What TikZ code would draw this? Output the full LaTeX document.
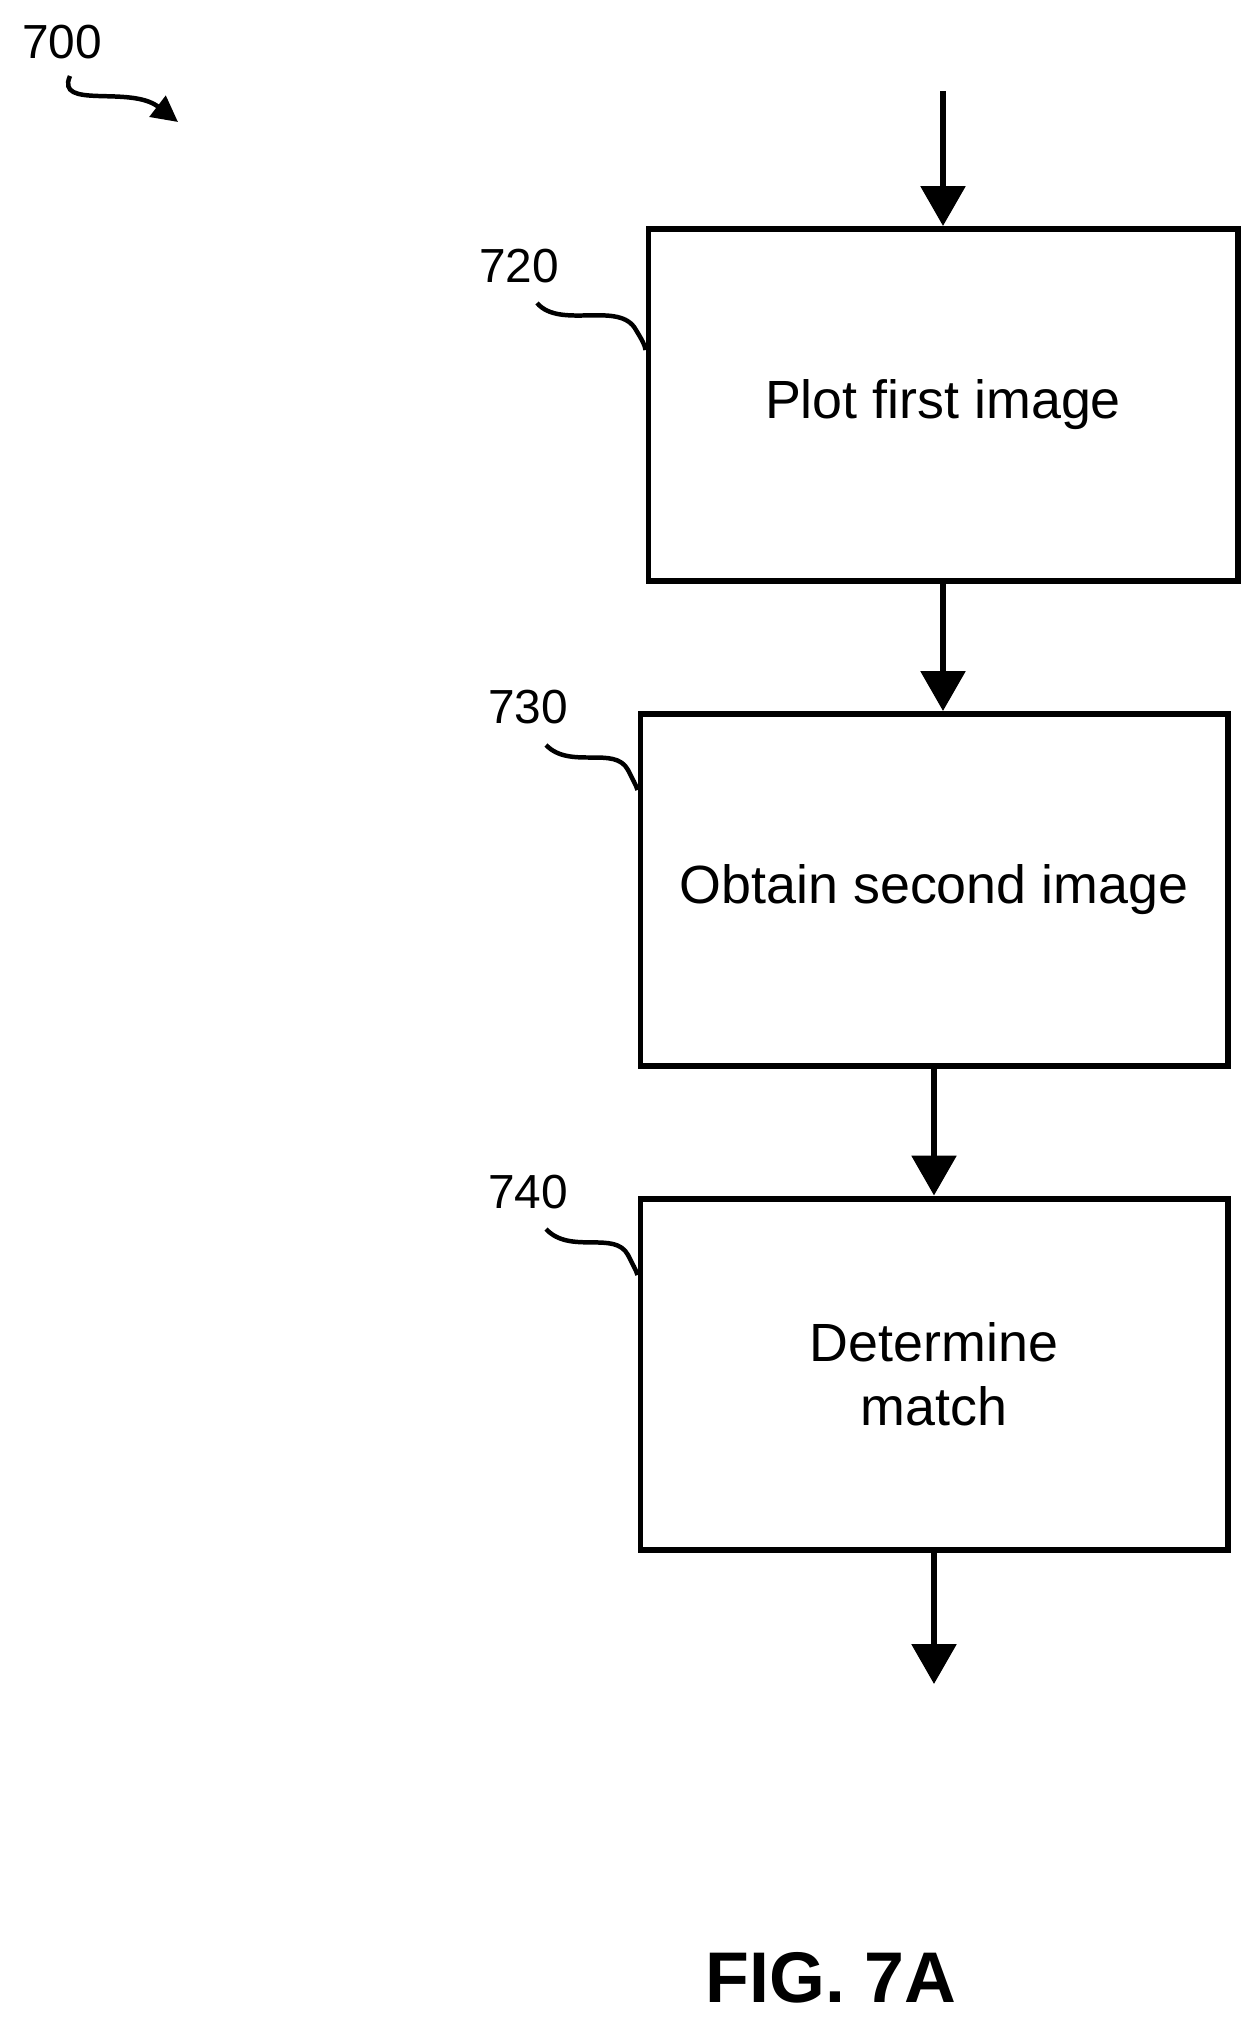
\documentclass[tikz,border=0pt]{standalone}
\usepackage{fontspec}
\setmainfont{Liberation Sans}
\usetikzlibrary{arrows.meta}
\begin{document}
\begin{tikzpicture}[x=1bp,y=-1bp,
  boxst/.style={draw,line width=6pt,inner sep=0pt,font=\fontsize{54}{64}\selectfont,align=center},
  arr/.style={line width=6pt,-{Triangle[length=40pt,width=44pt]}},
  lbl/.style={font=\fontsize{48}{56}\selectfont},
  lead/.style={line width=4.5pt}]
\useasboundingbox (0,0) rectangle (1254,2021);
\node[boxst,minimum width=589bp,minimum height=352bp] (b720) at (943,405) {Plot first image};
\node[boxst,minimum width=587bp,minimum height=352bp] (b730) at (934,890) {Obtain second image};
\node[boxst,minimum width=587bp,minimum height=351bp] (b740) at (934,1374) {Determine\\match};
\coordinate (top) at (943,91);
\coordinate (bot) at (934,1684);
\draw[arr] (top) -- (b720.north);
\draw[arr] (b720.south) -- (b720.south |- b730.north);
\draw[arr] (b730.south) -- (b740.north);
\draw[arr] (b740.south) -- (bot);
\node[lbl] (l700) at (62,42) {700};
\node[lbl] (l720) at (519,266) {720};
\node[lbl] (l730) at (528,707) {730};
\node[lbl] (l740) at (528,1192) {740};
\draw[line width=4.5pt,-{Triangle[length=26pt,width=26pt]}] (70,76) .. controls (55,110) and (130,85) .. (178,122);
\draw[lead] (537,303) .. controls (560,330) and (620,300) .. (636,330) .. controls (642,340) and (645,345) .. (b720.west |- 0,350);
\draw[lead] (546,745) .. controls (570,770) and (615,745) .. (628,770) .. controls (633,780) and (636,785) .. (b730.west |- 0,790);
\draw[lead] (546,1229) .. controls (570,1255) and (615,1230) .. (628,1255) .. controls (633,1265) and (636,1270) .. (b740.west |- 0,1275);
\node[font=\bfseries\fontsize{72}{80}\selectfont] (fig) at (831,1978) {FIG. 7A};
\end{tikzpicture}
\end{document}
